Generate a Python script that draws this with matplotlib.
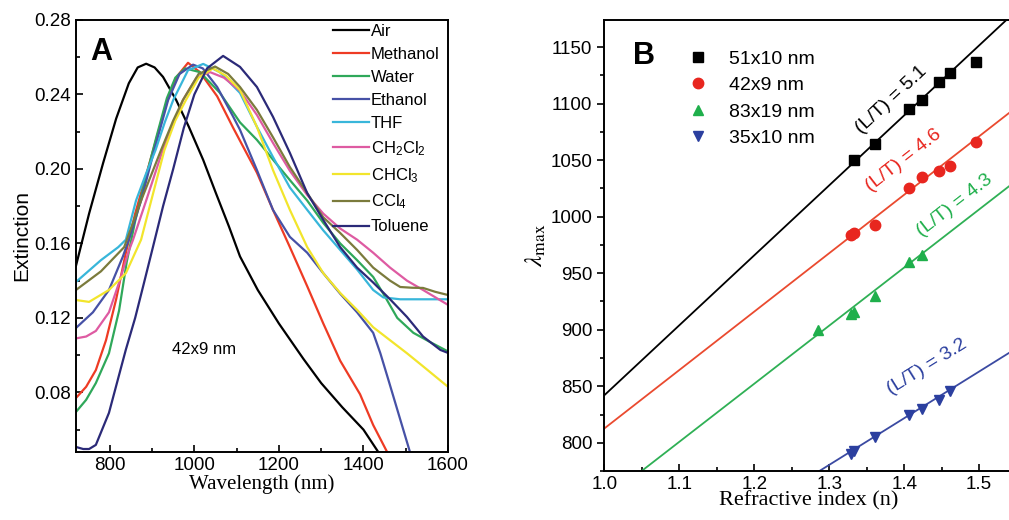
import numpy as np
import matplotlib.pyplot as plt
from matplotlib.ticker import MultipleLocator

plt.rcParams['font.family'] = ['Liberation Sans', 'DejaVu Sans']
plt.rcParams['mathtext.fontset'] = 'custom'
plt.rcParams['mathtext.rm'] = 'Liberation Sans'
plt.rcParams['mathtext.it'] = 'Liberation Sans:italic'
plt.rcParams['mathtext.bf'] = 'Liberation Sans:bold'

# ---- A: extinction spectra of 42x9 nm rods in different solvents ----
air_wl = [720, 751, 784, 815, 845, 866, 886, 906, 926, 957, 987, 1021, 1051, 1082, 1108,
          1150, 1200, 1258, 1300, 1350, 1400, 1435]
air_ext = [.148, .176, .203, .227, .246, .2545, .2565, .2545, .2494, .237, .2226, .2048, .187,
           .169, .153, .135, .117, .098, .085, .072, .060, .048]

methanol_wl = [720, 744, 767, 791, 815, 838, 860, 885, 910, 935, 960, 985, 1013, 1054, 1092,
               1148, 1186, 1226, 1267, 1305, 1345, 1392, 1423, 1456]
methanol_ext = [.077, .083, .092, .108, .130, .155, .176, .196, .216, .236, .250, .257, .252,
                .239, .222, .198, .178, .158, .137, .117, .097, .079, .0625, .048]

water_wl = [720, 744, 767, 798, 822, 840, 860, 885, 910, 935, 955, 978, 1013, 1060, 1108, 1148,
            1186, 1226, 1267, 1305, 1345, 1385, 1423, 1447, 1480, 1518, 1558, 1600]
water_ext = [.0695, .076, .085, .101, .124, .150, .172, .195, .217, .238, .249, .254, .252, .241,
             .225, .2156, .205, .194, .183, .171, .160, .151, .142, .133, .120, .112, .107, .102]

ethanol_wl = [720, 760, 798, 831, 845, 874, 905, 938, 965, 997, 1020, 1054, 1092, 1108, 1148,
              1186, 1226, 1267, 1305, 1345, 1385, 1423, 1440, 1460, 1485, 1510]
ethanol_ext = [.1146, .123, .135, .153, .162, .183, .210, .237, .251, .256, .254, .244, .228,
               .221, .1994, .178, .1635, .155, .144, .133, .123, .112, .101, .086, .067, .048]

thf_wl = [720, 779, 820, 838, 862, 885, 908, 930, 950, 985, 1021, 1060, 1108, 1148, 1186, 1226,
          1267, 1305, 1345, 1385, 1423, 1447, 1487, 1540, 1600]
thf_ext = [.1393, .151, .158, .162, .183, .197, .210, .225, .237, .253, .2564, .252, .2408, .2226,
           .2064, .190, .178, .167, .1565, .146, .135, .131, .130, .130, .130]

ch2cl2_wl = [720, 744, 767, 798, 822, 845, 855, 886, 925, 973, 1005, 1037, 1070, 1108, 1148,
             1186, 1226, 1267, 1305, 1345, 1385, 1423, 1463, 1503, 1541, 1600]
ch2cl2_ext = [.109, .110, .113, .123, .139, .156, .162, .183, .210, .237, .249, .252, .249, .242,
              .229, .214, .199, .186, .176, .168, .162, .155, .147, .140, .135, .127]

chcl3_wl = [720, 751, 798, 838, 874, 898, 929, 955, 980, 1010, 1044, 1075, 1108, 1148, 1186,
            1226, 1267, 1305, 1345, 1385, 1423, 1463, 1503, 1541, 1600]
chcl3_ext = [.1296, .1286, .135, .144, .162, .183, .210, .226, .237, .249, .254, .250, .2424,
             .2226, .1994, .178, .158, .144, .1334, .1243, .115, .108, .101, .094, .083]

ccl4_wl = [720, 779, 834, 874, 921, 950, 973, 1010, 1049, 1080, 1108, 1148, 1186, 1226, 1267,
           1305, 1345, 1385, 1423, 1463, 1487, 1515, 1541, 1570, 1600]
ccl4_ext = [.135, .145, .158, .183, .210, .226, .237, .251, .255, .251, .244, .2317, .217, .201,
            .187, .174, .1656, .1565, .147, .140, .1366, .1362, .1361, .134, .1323]

toluene_wl = [720, 737, 751, 767, 798, 838, 860, 880, 902, 926, 950, 975, 1000, 1030, 1068, 1108,
              1148, 1186, 1226, 1267, 1305, 1345, 1385, 1423, 1463, 1503, 1541, 1582, 1600]
toluene_ext = [.0507, .0496, .0496, .0518, .069, .103, .120, .138, .158, .180, .200, .222, .240,
               .254, .2607, .2548, .244, .228, .2086, .187, .1726, .158, .147, .139, .130, .1205,
               .110, .1028, .1012]

solvents = ['Air', 'Methanol', 'Water', 'Ethanol', 'THF', r'CH$_2$Cl$_2$', r'CHCl$_3$',
            r'CCl$_4$', 'Toluene']
solvent_colors = ['#000000', '#ee3b24', '#2fa85a', '#4651a6', '#38b6da', '#de5ba2', '#f2e52c',
                  '#7b7b3c', '#2b2a78']

# ---- B: peak position vs refractive index ----
n_51x10 = [1.333, 1.361, 1.407, 1.424, 1.446, 1.461, 1.496]
lam_51x10 = [1050, 1064, 1095, 1103, 1119, 1127, 1137]
n_42x9 = [1.329, 1.333, 1.361, 1.407, 1.424, 1.446, 1.461, 1.496]
lam_42x9 = [984, 986, 993, 1025, 1035, 1040, 1045, 1066]
n_83x19 = [1.285, 1.329, 1.333, 1.361, 1.407, 1.424]
lam_83x19 = [900, 914, 916, 930, 960, 966]
n_35x10 = [1.329, 1.333, 1.361, 1.407, 1.424, 1.446, 1.461]
lam_35x10 = [790, 793, 805, 825, 830, 838, 846]

rod_sizes = ['51x10 nm', '42x9 nm', '83x19 nm', '35x10 nm']
aspect = ['5.1', '4.6', '4.3', '3.2']
fit_lam_at_1 = [842, 812.6, 749.4, 656.5]   # lambda_max of the linear fit at n = 1
fit_slope = [619, 517, 514, 413]
aspect_label_pos = [(1.383, 1103), (1.3995, 1050), (1.467, 1010), (1.430, 867)]

fig = plt.figure(figsize=(10.09, 5.2), dpi=100)

# panel A
axa = fig.add_axes([0.0753, 0.1308, 0.3687, 0.8308])
spectra = [(air_wl, air_ext), (methanol_wl, methanol_ext), (water_wl, water_ext),
           (ethanol_wl, ethanol_ext), (thf_wl, thf_ext), (ch2cl2_wl, ch2cl2_ext),
           (chcl3_wl, chcl3_ext), (ccl4_wl, ccl4_ext), (toluene_wl, toluene_ext)]
for (wl, ext), lab, c in zip(spectra, solvents, solvent_colors):
    axa.plot(wl, ext, color=c, lw=1.6, label=lab, solid_joinstyle='round')

axa.set_xlim(720, 1600)
axa.set_ylim(0.048, 0.28)
axa.xaxis.set_major_locator(MultipleLocator(200))
axa.xaxis.set_minor_locator(MultipleLocator(100))
axa.yaxis.set_major_locator(MultipleLocator(0.04))
axa.yaxis.set_minor_locator(MultipleLocator(0.02))
axa.yaxis.set_major_formatter(lambda v, p: f'{v:.2f}')
axa.tick_params(which='both', direction='in', labelsize=13.5, width=1.2)
axa.tick_params(which='major', length=5)
axa.tick_params(which='minor', length=3)
for s in axa.spines.values():
    s.set_linewidth(1.4)
axa.set_xlabel('Wavelength (nm)', family='Liberation Serif', fontsize=15, labelpad=0)
axa.set_ylabel('Extinction', fontsize=15, labelpad=2)
axa.text(0.067, 0.926, 'A', transform=axa.transAxes, fontsize=22, fontweight='bold',
         ha='center', va='center')
axa.text(1023, 0.103, '42x9 nm', fontsize=12, ha='center', va='center')
axa.legend(loc='upper left', bbox_to_anchor=(0.69, 0.99), frameon=False, fontsize=12,
           handlelength=2.2, handletextpad=0.1, labelspacing=0.48, borderpad=0,
           borderaxespad=0)

# panel B
axb = fig.add_axes([0.5989, 0.0942, 0.4049, 0.8673])
n_line = np.array([1.0, 1.6])
markers = ['s', 'o', '^', 'v']
point_colors = ['#000000', '#e8261f', '#1faf4b', '#2b3f9f']
line_colors = ['#000000', '#ea4a2f', '#2fb055', '#3b4aa2']
points = [(n_51x10, lam_51x10), (n_42x9, lam_42x9), (n_83x19, lam_83x19), (n_35x10, lam_35x10)]
msizes = [6.5, 7.5, 7.5, 7.5]
for i, (nn, lam) in enumerate(points):
    axb.plot(n_line, fit_lam_at_1[i] + fit_slope[i] * (n_line - 1.0), color=line_colors[i],
             lw=1.3, zorder=2)
    axb.plot(nn, lam, ls='none', marker=markers[i], ms=msizes[i], color=point_colors[i],
             label=rod_sizes[i], zorder=3)

axb.set_xlim(1.0, 1.545)
axb.set_ylim(775, 1174)
axb.xaxis.set_major_locator(MultipleLocator(0.1))
axb.xaxis.set_minor_locator(MultipleLocator(0.05))
axb.yaxis.set_major_locator(MultipleLocator(50))
axb.yaxis.set_minor_locator(MultipleLocator(25))
axb.tick_params(axis='x', which='both', direction='in')
axb.tick_params(axis='y', which='both', direction='out')
axb.tick_params(which='both', labelsize=13.5, width=1.2)
axb.tick_params(which='major', length=5)
axb.tick_params(which='minor', length=3)
for s in axb.spines.values():
    s.set_linewidth(1.4)
axb.set_xlabel('Refractive index (n)', family='Liberation Serif', fontsize=16, labelpad=-1)
axb.set_ylabel(r'$\lambda_{\mathrm{max}}$', fontsize=18, math_fontfamily='stix', labelpad=2)
axb.text(0.097, 0.92, 'B', transform=axb.transAxes, fontsize=22, fontweight='bold',
         ha='center', va='center')
axb.legend(loc='upper left', bbox_to_anchor=(0.205, 0.933), frameon=False, fontsize=14,
           handlelength=1.0, handletextpad=1.1, labelspacing=0.45, borderpad=0,
           borderaxespad=0, numpoints=1)

# (L/T) labels rotated along each fit line
for i, (x, y) in enumerate(aspect_label_pos):
    p0 = axb.transData.transform((1.2, fit_lam_at_1[i] + fit_slope[i] * 0.2))
    p1 = axb.transData.transform((1.4, fit_lam_at_1[i] + fit_slope[i] * 0.4))
    ang = np.degrees(np.arctan2(p1[1] - p0[1], p1[0] - p0[0]))
    axb.text(x, y, f'(L/T) = {aspect[i]}', color=point_colors[i], fontsize=14,
             rotation=ang, rotation_mode='anchor', ha='center', va='center')

fig.savefig('out.png', dpi=100)
